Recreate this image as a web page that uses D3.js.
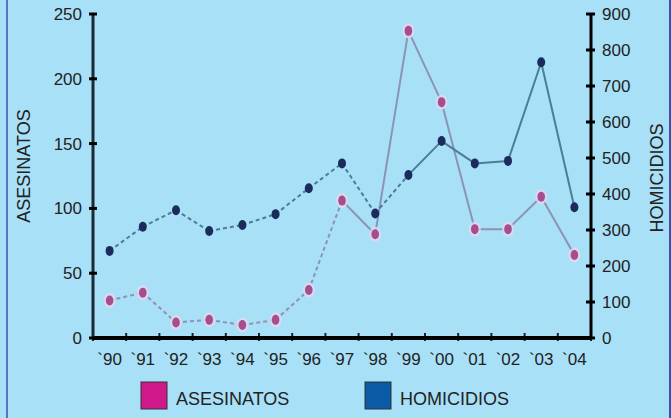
<!DOCTYPE html>
<html>
<head>
<meta charset="utf-8">
<script src="https://cdn.jsdelivr.net/npm/d3@7"></script>
<style>
  body { margin: 0; background: #a8e0f7; }
  svg { display: block; font-family: "Liberation Sans", Arial, sans-serif; }
</style>
</head>
<body>
<div id="chart"></div>
<script>
// data
const years = ["`90", "`91", "`92", "`93", "`94", "`95", "`96", "`97", "`98", "`99", "`00", "`01", "`02", "`03", "`04"];
const asesinatos = [29, 35, 12, 14, 10, 14, 37, 106, 80, 237, 182, 84, 84, 109, 64];
const homicidios = [242, 309, 355, 297, 314, 344, 416, 485, 346, 453, 547, 485, 492, 766, 363];
const leftTicks = [0, 50, 100, 150, 200, 250];
const rightTicks = [0, 100, 200, 300, 400, 500, 600, 700, 800, 900];

const W = 671, H = 418;
const margin = {top: 14, right: 80, bottom: 80, left: 93};
const width = W - margin.left - margin.right;
const height = H - margin.top - margin.bottom;

const svg = d3.select("#chart").append("svg")
  .attr("width", W)
  .attr("height", H);

svg.append("rect").attr("width", W).attr("height", H).attr("fill", "#a8e0f7");
// side borders
svg.append("line").attr("x1", 7).attr("x2", 7).attr("y1", 0).attr("y2", H)
  .attr("stroke", "#5b73c2").attr("stroke-width", 2);
svg.append("line").attr("x1", 670).attr("x2", 670).attr("y1", 0).attr("y2", H)
  .attr("stroke", "#3b4fa8").attr("stroke-width", 2);

const g = svg.append("g").attr("transform", `translate(${margin.left},${margin.top})`);

const x = d3.scaleBand().domain(years).range([0, width]);
const yL = d3.scaleLinear().domain([0, 250]).range([height, 0]);
const yR = d3.scaleLinear().domain([0, 900]).range([height, 0]);

// x axis: ticks at band edges, labels in band centres
const edges = years.map(d => x(d)).concat([width]);
g.selectAll(".xtick").data(edges).enter().append("line")
  .attr("x1", d => d).attr("x2", d => d)
  .attr("y1", height - 5).attr("y2", height + 3)
  .attr("stroke", "#222").attr("stroke-width", 2);
g.append("line").attr("x1", 0).attr("x2", width).attr("y1", height).attr("y2", height)
  .attr("stroke", "#000").attr("stroke-width", 4);
g.selectAll(".xlab").data(years).enter().append("text")
  .attr("x", d => x(d) + x.bandwidth() / 2)
  .attr("y", height + 27)
  .attr("text-anchor", "middle")
  .attr("font-size", 17)
  .attr("fill", "#222")
  .text(d => d);

// left axis
g.append("line").attr("x1", 0).attr("x2", 0).attr("y1", 0).attr("y2", height)
  .attr("stroke", "#1b2a33").attr("stroke-width", 3);
g.selectAll(".ltick").data(leftTicks).enter().append("line")
  .attr("x1", -4).attr("x2", 4)
  .attr("y1", d => yL(d)).attr("y2", d => yL(d))
  .attr("stroke", "#000").attr("stroke-width", 3);
g.selectAll(".llab").data(leftTicks).enter().append("text")
  .attr("x", -11).attr("y", d => yL(d) + 6)
  .attr("text-anchor", "end")
  .attr("font-size", 17)
  .attr("fill", "#222")
  .text(d => d);

// right axis
g.append("line").attr("x1", width).attr("x2", width).attr("y1", 0).attr("y2", height)
  .attr("stroke", "#000").attr("stroke-width", 3);
g.selectAll(".rtick").data(rightTicks).enter().append("line")
  .attr("x1", width - 5).attr("x2", width + 4)
  .attr("y1", d => yR(d)).attr("y2", d => yR(d))
  .attr("stroke", "#000").attr("stroke-width", 3);
g.selectAll(".rlab").data(rightTicks).enter().append("text")
  .attr("x", width + 11).attr("y", d => yR(d) + 6)
  .attr("text-anchor", "start")
  .attr("font-size", 17)
  .attr("fill", "#222")
  .text(d => d);

// axis titles
svg.append("text")
  .attr("transform", "translate(30,166) rotate(-90)")
  .attr("text-anchor", "middle")
  .attr("font-size", 18)
  .attr("fill", "#222")
  .text("ASESINATOS");
svg.append("text")
  .attr("transform", "translate(663,178) rotate(-90)")
  .attr("text-anchor", "middle")
  .attr("font-size", 18)
  .attr("fill", "#222")
  .text("HOMICIDIOS");

const cx = d => x(d) + x.bandwidth() / 2;

// line segments, drawn one by one so the early part can be dashed
function drawSeries(values, scale, color, dashUntil, cls) {
  const segs = d3.pairs(values.map((v, i) => ({yr: years[i], v: v, i: i})));
  g.selectAll("." + cls).data(segs).enter().append("line")
    .attr("class", cls)
    .attr("x1", d => cx(d[0].yr)).attr("y1", d => scale(d[0].v))
    .attr("x2", d => cx(d[1].yr)).attr("y2", d => scale(d[1].v))
    .attr("stroke", color)
    .attr("stroke-width", 2)
    .attr("stroke-dasharray", d => d[0].i < dashUntil ? "4,3" : null);
}
drawSeries(asesinatos, yL, "#8c93b4", 7, "seg-a");
drawSeries(homicidios, yR, "#4d7c98", 9, "seg-h");

// markers
g.selectAll(".halo-a").data(asesinatos).enter().append("ellipse")
  .attr("cx", (d, i) => cx(years[i])).attr("cy", d => yL(d))
  .attr("rx", 6).attr("ry", 7.5)
  .attr("fill", "#e8d6ee").attr("opacity", 0.8);
g.selectAll(".dot-a").data(asesinatos).enter().append("ellipse")
  .attr("cx", (d, i) => cx(years[i])).attr("cy", d => yL(d))
  .attr("rx", 3.8).attr("ry", 5)
  .attr("fill", "#a44e8e");
g.selectAll(".dot-h").data(homicidios).enter().append("ellipse")
  .attr("cx", (d, i) => cx(years[i])).attr("cy", d => yR(d))
  .attr("rx", 4).attr("ry", 5)
  .attr("fill", "#1b2c5c");

// legend
const legend = svg.append("g");
const items = [
  {label: "ASESINATOS", color: "#d0198a", x: 141},
  {label: "HOMICIDIOS", color: "#0b5aa6", x: 365}
];
legend.selectAll("rect").data(items).enter().append("rect")
  .attr("x", d => d.x).attr("y", 382)
  .attr("width", 26).attr("height", 27)
  .attr("fill", d => d.color)
  .attr("stroke", "#333").attr("stroke-width", 1);
legend.selectAll("text").data(items).enter().append("text")
  .attr("x", d => d.x + 35).attr("y", 405)
  .attr("font-size", 18)
  .attr("fill", "#222")
  .text(d => d.label);
</script>
</body>
</html>
